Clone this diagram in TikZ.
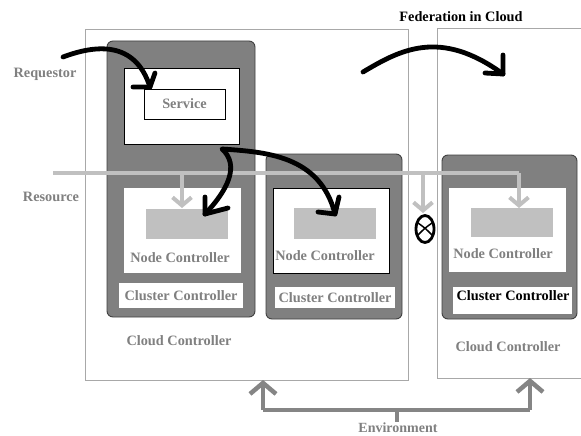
\documentclass[tikz,border=0pt]{standalone}
\usepackage{fontspec}
\setmainfont{Liberation Serif}
\usetikzlibrary{arrows.meta,shapes.geometric}
\definecolor{framegray}{HTML}{A8A8A8}
\definecolor{darkfill}{HTML}{808080}
\definecolor{lightfill}{HTML}{C0C0C0}
\definecolor{labelgray}{HTML}{808080}
\definecolor{envgray}{HTML}{858585}

\begin{document}
\begin{tikzpicture}[x=1pt,y=-1pt,
  every node/.style={inner sep=0pt, outer sep=0pt},
  lbl/.style={font=\fontsize{14.3}{16}\selectfont\bfseries, text=labelgray},
  blk/.style={font=\fontsize{14.3}{16}\selectfont\bfseries, text=black},
  frame/.style={draw=framegray, line width=0.9pt, fill=white},
  cluster/.style={draw=black!75, fill=darkfill, rounded corners=6pt, line width=0.9pt},
  panel/.style={fill=white},
  outlined/.style={draw=black, line width=0.8pt, fill=white},
  graybox/.style={fill=lightfill},
  hand/.style={draw=black, line width=4.8pt, line cap=round, line join=round},
  res/.style={draw=lightfill, line width=4pt},
  resdrop/.style={res, -{Straight Barb[length=8pt,width=19pt]}},
  env/.style={draw=envgray, line width=4.5pt},
  envtip/.style={env, -{Straight Barb[length=11pt,width=26pt]}}
]
\useasboundingbox[fill=white] (0,0) rectangle (581,436);

% cloud frames
\node[frame, minimum width=323pt, minimum height=351pt] (cloudL) at (246.5,204.5) {};
\node[frame, minimum width=170pt, minimum height=350pt, anchor=north west] (cloudR) at (437,28) {};

% clusters
\node[cluster, minimum width=148pt, minimum height=276pt] (clusterA) at (181,179) {};
\node[cluster, minimum width=136pt, minimum height=165pt] (clusterB) at (334,236.5) {};
\node[cluster, minimum width=135pt, minimum height=164pt] (clusterC) at (509.5,237) {};

% requestor side: service panel
\node[outlined, minimum width=115pt, minimum height=76pt] (svcpanel) at (181.5,106) {};
\node[outlined, minimum width=81pt, minimum height=30pt, lbl] (service) at (184.5,104) {Service};

% node controller panels
\node[panel, minimum width=117pt, minimum height=85pt] (ncA) at (182.5,230.5) {};
\node[graybox, minimum width=82pt, minimum height=30pt] (vmA) at (187,224) {};
\node[lbl] (ncAtxt) at (180,258) {Node Controller};

\node[outlined, minimum width=116pt, minimum height=85pt] (ncB) at (331,230.5) {};
\node[graybox, minimum width=82pt, minimum height=31pt] (vmB) at (335,223.5) {};
\node[lbl] (ncBtxt) at (325,256) {Node Controller};

\node[panel, minimum width=117pt, minimum height=84pt] (ncC) at (507.5,230) {};
\node[graybox, minimum width=82pt, minimum height=29pt] (vmC) at (512,222.5) {};
\node[lbl] (ncCtxt) at (503,254) {Node Controller};

% cluster controller boxes
\node[panel, minimum width=124pt, minimum height=25pt, lbl] (ccA) at (181,295.5) {Cluster Controller};
\node[panel, minimum width=120pt, minimum height=21pt, lbl] (ccB) at (335,297.5) {Cluster Controller};
\node[panel, minimum width=119pt, minimum height=27pt] (ccC) at (512.5,300.5) {};
\node[blk] (ccCtxt) at (513,296) {Cluster Controller};

% cloud controller labels
\node[lbl] (cloudAtxt) at (179,341) {Cloud Controller};
\node[lbl] (cloudCtxt) at (508,347) {Cloud Controller};

% side labels and title
\node[lbl] (requestor) at (45,74) {Requestor};
\node[lbl] (resource) at (51,197) {Resource};
\node[blk] (title) at (461,17) {Federation in Cloud};
\node[lbl, font=\fontsize{14}{15}\selectfont\bfseries] (environment) at (398,427.5) {Environment};

% resource bus
\coordinate (busL) at (53,173);
\coordinate (busR) at (519,173);
\coordinate (busA) at (182,173);
\coordinate (busB) at (423,173);
\draw[res] (busL) -- (busR);
\draw[resdrop] (busA) -- (182,208);
\draw[resdrop] (busB) -- (423,213);
\draw[resdrop] (busR) -- (519,208);

% blocked link marker
\node[draw=black, line width=2.8pt, ellipse, minimum width=18pt, minimum height=27pt] (block) at (425,229) {};
\draw[black, line width=1.5pt] (418,223) .. controls (425,228) .. (432,235)
      (432,223) .. controls (425,228) .. (418,235);

% requestor to service
\coordinate (reqS) at (63,57);
\coordinate (reqT) at (150,87);
\draw[hand] (reqS) .. controls (95,45) and (135,40) .. (reqT);
\draw[hand] (reqT) -- (155,73) (reqT) -- (133,87);

% service to node controllers
\coordinate (hub) at (222,149);
\coordinate (tipA) at (205,214);
\coordinate (tipB) at (335,214);
\draw[hand] (tipA) .. controls (228,190) and (240,165) .. (hub)
      .. controls (265,152) and (320,155) .. (tipB);
\draw[hand] (tipA) -- (205,197) (tipA) -- (228,208);
\draw[hand] (tipB) -- (339,197) (tipB) -- (318,212);

% federation arrow
\coordinate (fedS) at (363,72);
\coordinate (fedT) at (503,74);
\draw[hand] (fedS) .. controls (400,50) and (440,28) .. (fedT);
\draw[hand] (fedT) -- (503,55) (fedT) -- (485,73);

% environment feedback
\coordinate (envL) at (263,410);
\coordinate (envR) at (530,410);
\coordinate (envStub) at (397,422);
\draw[envtip] (envL) -- (263,380);
\draw[env] (envL) -- (envR);
\draw[envtip] (envR) -- (530,378);
\draw[env] (397,410) -- (envStub);
\end{tikzpicture}
\end{document}
